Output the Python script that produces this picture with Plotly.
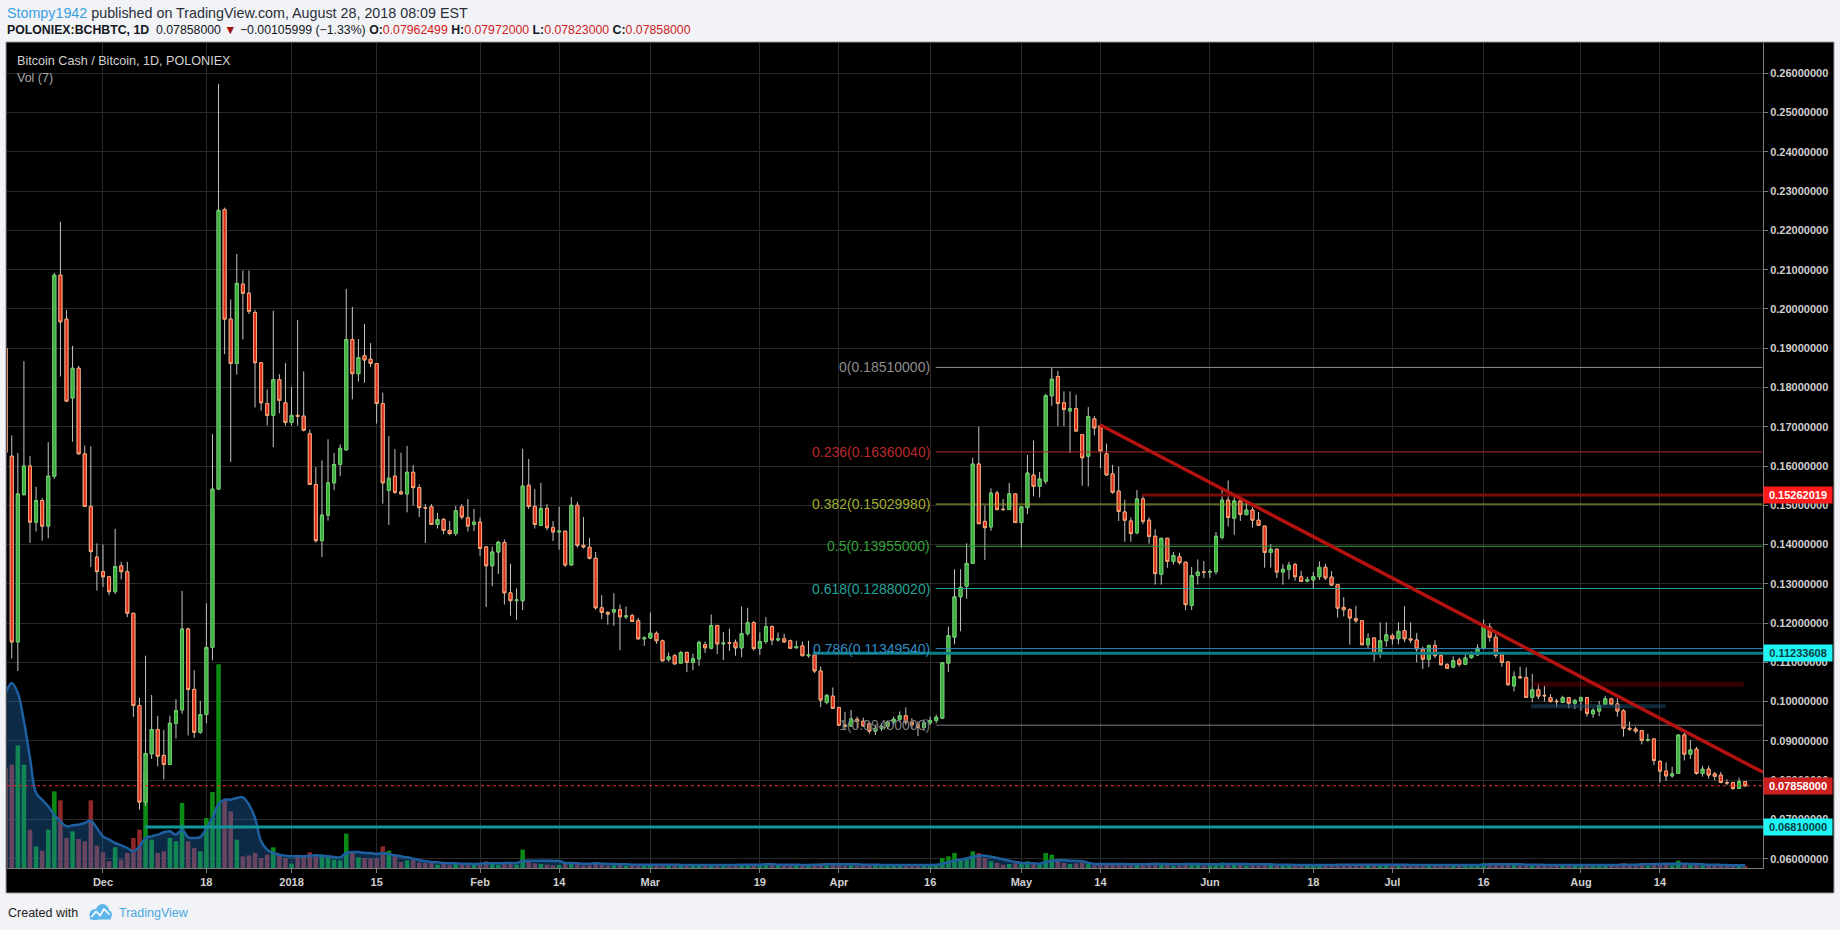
import plotly.graph_objects as go
import pandas as pd

# ---------------- data ----------------
start_date = "2017-11-15"
end_date = "2018-08-28"

open_ = [
    0.1900, 0.1625, 0.1152, 0.1527, 0.1600, 0.1457, 0.1512, 0.1447, 0.1574, 0.2086, 0.1974, 0.1773, 0.1849, 0.1631, 0.1497, 0.1368,
    0.1331, 0.1318, 0.1280, 0.1346, 0.1331, 0.1225, 0.0990, 0.0744, 0.0867, 0.0929, 0.0863, 0.0840, 0.0945, 0.0979, 0.1185, 0.1031, 0.0922, 0.0967, 0.1138, 0.1541, 0.2253, 0.1974, 0.1861, 0.2063, 0.2040, 0.1991, 0.1863, 0.1759, 0.1729, 0.1820, 0.1761,
    0.1711, 0.1729, 0.1727, 0.1682, 0.1553, 0.1410, 0.1475, 0.1557, 0.1604, 0.1641, 0.1922, 0.1835, 0.1881, 0.1872, 0.1861, 0.1759, 0.1538, 0.1574, 0.1534, 0.1529, 0.1584, 0.1545, 0.1494, 0.1496, 0.1451, 0.1464, 0.1436, 0.1428, 0.1496, 0.1468, 0.1451,
    0.1457, 0.1394, 0.1346, 0.1381, 0.1405, 0.1277, 0.1257, 0.1257, 0.1551, 0.1497, 0.1449, 0.1492, 0.1443, 0.1432, 0.1434, 0.1348, 0.1500, 0.1398, 0.1393, 0.1365, 0.1239, 0.1227, 0.1228, 0.1234, 0.1216, 0.1219, 0.1206, 0.1160,
    0.1162, 0.1174, 0.1155, 0.1107, 0.1117, 0.1098, 0.1125, 0.1100, 0.1109, 0.1145, 0.1136, 0.1194, 0.1147, 0.1150, 0.1151, 0.1137, 0.1173, 0.1201, 0.1136, 0.1153, 0.1191, 0.1157, 0.1160, 0.1155, 0.1137, 0.1142, 0.1117, 0.1119, 0.1078, 0.0998, 0.1014,
    0.0985, 0.0940, 0.0938, 0.0955, 0.0950, 0.0944, 0.0925, 0.0932, 0.0937, 0.0948, 0.0955, 0.0964, 0.0948, 0.0941, 0.0934, 0.0946, 0.0952, 0.0958, 0.1098, 0.1164, 0.1267, 0.1294, 0.1352, 0.1605, 0.1459, 0.1445, 0.1531, 0.1490, 0.1489, 0.1529,
    0.1456, 0.1494, 0.1577, 0.1548, 0.1561, 0.1779, 0.1828, 0.1761, 0.1740, 0.1746, 0.1680, 0.1625, 0.1720, 0.1703, 0.1631, 0.1580, 0.1536, 0.1483, 0.1460, 0.1430, 0.1516, 0.1462, 0.1421, 0.1324, 0.1416, 0.1357, 0.1369, 0.1355, 0.1245, 0.1321, 0.1330,
    0.1330, 0.1331, 0.1418, 0.1513, 0.1467, 0.1511, 0.1476, 0.1488, 0.1462, 0.1447, 0.1380, 0.1388, 0.1330, 0.1337, 0.1349, 0.1318, 0.1307, 0.1310, 0.1318, 0.1342, 0.1317, 0.1298, 0.1240, 0.1234, 0.1211, 0.1206, 0.1145, 0.1162, 0.1122, 0.1155,
    0.1168, 0.1160, 0.1181, 0.1160, 0.1157, 0.1134, 0.1108, 0.1143, 0.1117, 0.1094, 0.1088, 0.1106, 0.1095, 0.1112, 0.1119, 0.1136, 0.1190, 0.1164, 0.1119, 0.1101, 0.1040, 0.1063, 0.1061, 0.1011, 0.1030, 0.1016, 0.1010, 0.1001, 0.0998, 0.1010, 0.0996,
    0.1002, 0.1010, 0.0969, 0.0976, 0.0993, 0.1007, 0.0994, 0.0977, 0.0932, 0.0930, 0.0926, 0.0902, 0.0905, 0.0848, 0.0823, 0.0811, 0.0817, 0.0915, 0.0866, 0.0879, 0.0817, 0.0828, 0.0816, 0.0813, 0.0794, 0.0794, 0.0779, 0.07962,
]
high = [
    0.1920, 0.1678, 0.1633, 0.1867, 0.1625, 0.1547, 0.1518, 0.1661, 0.2092, 0.2222, 0.1997, 0.1906, 0.1855, 0.1652, 0.1650, 0.1403,
    0.1400, 0.1320, 0.1440, 0.1356, 0.1356, 0.1225, 0.1010, 0.1117, 0.1017, 0.0963, 0.0928, 0.0964, 0.1006, 0.1282, 0.1188, 0.1080, 0.1002, 0.1250, 0.1681, 0.2573, 0.2258, 0.2024, 0.2140, 0.2098, 0.2098, 0.1998, 0.1863, 0.1795, 0.1995, 0.1834, 0.1862,
    0.1801, 0.1972, 0.1841, 0.1693, 0.1597, 0.1614, 0.1668, 0.1633, 0.1655, 0.2051, 0.2005, 0.1923, 0.1962, 0.1913, 0.1861, 0.1787, 0.1676, 0.1643, 0.1634, 0.1651, 0.1602, 0.1553, 0.1503, 0.1503, 0.1481, 0.1468, 0.1460, 0.1498, 0.1503, 0.1516, 0.1491,
    0.1469, 0.1394, 0.1394, 0.1409, 0.1413, 0.1351, 0.1288, 0.1644, 0.1618, 0.1541, 0.1557, 0.1503, 0.1460, 0.1496, 0.1434, 0.1521, 0.1509, 0.1470, 0.1417, 0.1381, 0.1271, 0.1231, 0.1276, 0.1247, 0.1242, 0.1224, 0.1213, 0.1166,
    0.1227, 0.1179, 0.1158, 0.1125, 0.1122, 0.1129, 0.1128, 0.1122, 0.1155, 0.1153, 0.1222, 0.1194, 0.1177, 0.1186, 0.1158, 0.1242, 0.1239, 0.1205, 0.1176, 0.1215, 0.1194, 0.1176, 0.1173, 0.1158, 0.1155, 0.1153, 0.1155, 0.1121, 0.1089, 0.1019, 0.1036,
    0.0987, 0.0974, 0.0979, 0.0962, 0.0959, 0.0950, 0.0940, 0.0945, 0.0952, 0.0962, 0.0975, 0.0985, 0.0958, 0.0950, 0.0955, 0.0962, 0.0967, 0.1101, 0.1191, 0.1337, 0.1337, 0.1403, 0.1621, 0.1700, 0.1499, 0.1543, 0.1537, 0.1516, 0.1557, 0.1530,
    0.1496, 0.1628, 0.1665, 0.1585, 0.1784, 0.1851, 0.1842, 0.1790, 0.1790, 0.1782, 0.1680, 0.1750, 0.1727, 0.1705, 0.1657, 0.1603, 0.1599, 0.1514, 0.1469, 0.1539, 0.1524, 0.1469, 0.1439, 0.1416, 0.1416, 0.1381, 0.1379, 0.1355, 0.1343, 0.1362, 0.1358,
    0.1337, 0.1432, 0.1541, 0.1563, 0.1520, 0.1520, 0.1509, 0.1495, 0.1483, 0.1447, 0.1401, 0.1390, 0.1350, 0.1356, 0.1354, 0.1333, 0.1318, 0.1330, 0.1357, 0.1351, 0.1332, 0.1300, 0.1266, 0.1238, 0.1244, 0.1208, 0.1174, 0.1163, 0.1202, 0.1202,
    0.1174, 0.1202, 0.1243, 0.1202, 0.1175, 0.1140, 0.1145, 0.1156, 0.1123, 0.1098, 0.1115, 0.1112, 0.1123, 0.1128, 0.1146, 0.1209, 0.1200, 0.1179, 0.1121, 0.1102, 0.1077, 0.1089, 0.1087, 0.1071, 0.1045, 0.1041, 0.1019, 0.1007, 0.1015, 0.1012, 0.1007,
    0.1013, 0.1010, 0.0983, 0.1002, 0.1015, 0.1010, 0.1009, 0.0981, 0.0949, 0.0936, 0.0928, 0.0918, 0.0906, 0.0850, 0.0845, 0.0834, 0.0915, 0.0923, 0.0902, 0.0885, 0.0837, 0.0837, 0.0821, 0.0821, 0.0802, 0.0796, 0.0806, 0.07972,
]
low = [
    0.1620, 0.1110, 0.1078, 0.1525, 0.1404, 0.1433, 0.1410, 0.1416, 0.1567, 0.1828, 0.1765, 0.1662, 0.1629, 0.1497, 0.1343, 0.1283,
    0.1292, 0.1271, 0.1274, 0.1311, 0.1215, 0.0961, 0.0725, 0.0735, 0.0854, 0.0835, 0.0802, 0.0840, 0.0906, 0.0969, 0.0914, 0.0908, 0.0918, 0.0945, 0.1105, 0.1541, 0.1885, 0.1610, 0.1833, 0.1922, 0.1987, 0.1749, 0.1741, 0.1703, 0.1648, 0.1734, 0.1703,
    0.1703, 0.1703, 0.1688, 0.1553, 0.1405, 0.1368, 0.1461, 0.1538, 0.1574, 0.1641, 0.1770, 0.1815, 0.1812, 0.1852, 0.1708, 0.1504, 0.1450, 0.1529, 0.1527, 0.1482, 0.1499, 0.1470, 0.1404, 0.1451, 0.1441, 0.1426, 0.1424, 0.1422, 0.1464, 0.1433, 0.1434,
    0.1371, 0.1241, 0.1294, 0.1325, 0.1247, 0.1219, 0.1208, 0.1233, 0.1490, 0.1441, 0.1447, 0.1436, 0.1409, 0.1387, 0.1343, 0.1346, 0.1392, 0.1390, 0.1362, 0.1234, 0.1210, 0.1196, 0.1193, 0.1131, 0.1210, 0.1203, 0.1158, 0.1142,
    0.1160, 0.1147, 0.1102, 0.1102, 0.1095, 0.1096, 0.1075, 0.1080, 0.1091, 0.1124, 0.1133, 0.1121, 0.1106, 0.1129, 0.1117, 0.1113, 0.1168, 0.1130, 0.1119, 0.1147, 0.1144, 0.1153, 0.1150, 0.1134, 0.1136, 0.1115, 0.1112, 0.1073, 0.0986, 0.0993, 0.0981,
    0.0938, 0.0927, 0.0936, 0.0932, 0.0936, 0.0918, 0.0915, 0.0925, 0.0930, 0.0941, 0.0948, 0.0940, 0.0930, 0.0912, 0.0925, 0.0940, 0.0945, 0.0955, 0.1075, 0.1146, 0.1179, 0.1262, 0.1352, 0.1453, 0.1361, 0.1435, 0.1487, 0.1486, 0.1489, 0.1456,
    0.1392, 0.1477, 0.1523, 0.1520, 0.1554, 0.1753, 0.1701, 0.1701, 0.1633, 0.1689, 0.1550, 0.1548, 0.1678, 0.1594, 0.1577, 0.1529, 0.1460, 0.1407, 0.1407, 0.1426, 0.1452, 0.1402, 0.1298, 0.1298, 0.1341, 0.1349, 0.1349, 0.1233, 0.1233, 0.1298, 0.1315,
    0.1315, 0.1324, 0.1413, 0.1446, 0.1425, 0.1460, 0.1476, 0.1443, 0.1447, 0.1341, 0.1341, 0.1315, 0.1298, 0.1311, 0.1308, 0.1305, 0.1304, 0.1289, 0.1310, 0.1310, 0.1295, 0.1214, 0.1217, 0.1145, 0.1200, 0.1143, 0.1136, 0.1102, 0.1111, 0.1140,
    0.1145, 0.1146, 0.1151, 0.1149, 0.1100, 0.1083, 0.1088, 0.1111, 0.1092, 0.1083, 0.1085, 0.1089, 0.1094, 0.1109, 0.1117, 0.1132, 0.1153, 0.1111, 0.1089, 0.1041, 0.1026, 0.1058, 0.1011, 0.0998, 0.1006, 0.1000, 0.0998, 0.0987, 0.0997, 0.0983, 0.0981,
    0.0977, 0.0962, 0.0959, 0.0963, 0.0991, 0.0990, 0.0962, 0.0911, 0.0925, 0.0919, 0.0891, 0.0898, 0.0838, 0.0794, 0.0798, 0.0806, 0.0817, 0.0850, 0.0854, 0.0814, 0.0809, 0.0804, 0.0800, 0.0792, 0.0787, 0.0775, 0.0779, 0.07823,
]
close = [
    0.1635, 0.1152, 0.1529, 0.1600, 0.1457, 0.1512, 0.1447, 0.1574, 0.2086, 0.1967, 0.1765, 0.1849, 0.1631, 0.1497, 0.1382, 0.1331,
    0.1318, 0.1280, 0.1344, 0.1331, 0.1225, 0.0990, 0.0744, 0.0868, 0.0929, 0.0861, 0.0840, 0.0945, 0.0977, 0.1185, 0.1031, 0.0922, 0.0967, 0.1138, 0.1541, 0.2251, 0.1974, 0.1861, 0.2065, 0.2040, 0.1994, 0.1863, 0.1761, 0.1729, 0.1820, 0.1767, 0.1711,
    0.1729, 0.1727, 0.1691, 0.1553, 0.1410, 0.1475, 0.1557, 0.1604, 0.1645, 0.1922, 0.1835, 0.1876, 0.1870, 0.1861, 0.1759, 0.1557, 0.1569, 0.1533, 0.1529, 0.1584, 0.1545, 0.1494, 0.1493, 0.1451, 0.1464, 0.1436, 0.1428, 0.1486, 0.1470, 0.1447, 0.1457,
    0.1390, 0.1346, 0.1381, 0.1406, 0.1277, 0.1257, 0.1259, 0.1549, 0.1497, 0.1451, 0.1492, 0.1443, 0.1432, 0.1434, 0.1348, 0.1500, 0.1398, 0.1394, 0.1365, 0.1239, 0.1227, 0.1223, 0.1234, 0.1216, 0.1218, 0.1204, 0.1160, 0.1162,
    0.1174, 0.1155, 0.1104, 0.1114, 0.1096, 0.1125, 0.1100, 0.1109, 0.1151, 0.1137, 0.1194, 0.1147, 0.1149, 0.1149, 0.1137, 0.1173, 0.1201, 0.1135, 0.1153, 0.1191, 0.1157, 0.1160, 0.1152, 0.1136, 0.1140, 0.1117, 0.1119, 0.1078, 0.1004, 0.1016, 0.0983,
    0.0940, 0.0938, 0.0956, 0.0949, 0.0938, 0.0925, 0.0932, 0.0937, 0.0948, 0.0955, 0.0964, 0.0948, 0.0941, 0.0934, 0.0946, 0.0952, 0.0960, 0.1099, 0.1168, 0.1267, 0.1291, 0.1352, 0.1605, 0.1453, 0.1443, 0.1531, 0.1489, 0.1489, 0.1529, 0.1456,
    0.1496, 0.1582, 0.1548, 0.1567, 0.1779, 0.1821, 0.1759, 0.1744, 0.1746, 0.1689, 0.1621, 0.1726, 0.1697, 0.1638, 0.1577, 0.1533, 0.1484, 0.1462, 0.1428, 0.1516, 0.1459, 0.1421, 0.1326, 0.1416, 0.1357, 0.1372, 0.1354, 0.1247, 0.1321, 0.1330, 0.1329,
    0.1331, 0.1421, 0.1513, 0.1469, 0.1511, 0.1477, 0.1488, 0.1462, 0.1449, 0.1380, 0.1388, 0.1330, 0.1337, 0.1347, 0.1318, 0.1306, 0.1310, 0.1318, 0.1342, 0.1315, 0.1297, 0.1238, 0.1234, 0.1213, 0.1206, 0.1145, 0.1160, 0.1122, 0.1155, 0.1170,
    0.1160, 0.1179, 0.1160, 0.1157, 0.1134, 0.1108, 0.1143, 0.1117, 0.1094, 0.1085, 0.1104, 0.1095, 0.1111, 0.1119, 0.1136, 0.1196, 0.1164, 0.1118, 0.1100, 0.1043, 0.1063, 0.1061, 0.1011, 0.1030, 0.1014, 0.1015, 0.1000, 0.1000, 0.1010, 0.0996, 0.1003,
    0.1010, 0.0970, 0.0978, 0.0990, 0.1007, 0.0993, 0.0976, 0.0932, 0.0930, 0.0925, 0.0901, 0.0903, 0.0850, 0.0823, 0.0811, 0.0816, 0.0915, 0.0866, 0.0877, 0.0817, 0.0828, 0.0813, 0.0810, 0.0794, 0.0793, 0.0779, 0.07964, 0.07858,
]
volume = [
    300, 310, 368, 310, 115, 65, 52, 115, 230, 203, 90, 110, 87, 80, 203, 67,
    47, 20, 62, 25, 45, 90, 115, 290, 85, 45, 50, 90, 80, 195, 80, 60, 50, 150, 228, 611, 205, 170, 85, 35, 38, 45, 30, 40, 62, 40, 30,
    13, 40, 35, 47, 35, 40, 35, 25, 23, 103, 45, 32, 30, 28, 30, 65, 52, 40, 18, 23, 25, 17, 15, 15, 10, 12, 10, 14, 12, 14, 10,
    14, 20, 12, 10, 16, 14, 10, 55, 22, 14, 12, 10, 8, 9, 14, 18, 12, 7, 8, 14, 9, 7, 8, 10, 6, 7, 9, 7,
    8, 6, 9, 6, 7, 8, 9, 7, 8, 6, 12, 9, 7, 6, 7, 12, 10, 9, 8, 13, 9, 6, 6, 7, 5, 8, 6, 9, 14, 8, 9,
    10, 7, 8, 6, 7, 8, 6, 7, 8, 9, 8, 9, 7, 9, 8, 7, 9, 30, 35, 45, 25, 30, 50, 45, 30, 20, 15, 10, 12, 14,
    12, 20, 15, 12, 45, 40, 25, 15, 12, 14, 16, 14, 8, 12, 11, 10, 12, 9, 8, 12, 10, 11, 16, 12, 9, 6, 7, 14, 11, 9, 7,
    8, 13, 16, 12, 10, 9, 7, 8, 7, 12, 9, 10, 8, 7, 8, 6, 5, 6, 9, 8, 7, 13, 9, 12, 8, 10, 7, 11, 10, 8,
    7, 9, 10, 7, 9, 10, 8, 7, 8, 6, 7, 6, 7, 6, 7, 14, 10, 12, 9, 13, 10, 7, 10, 9, 8, 6, 7, 6, 7, 8, 6,
    7, 10, 8, 9, 7, 6, 9, 15, 8, 7, 10, 6, 13, 14, 11, 8, 22, 14, 9, 12, 8, 7, 6, 8, 5, 7, 6, 4,
]
volume_ma7 = [
    525, 555, 525, 440, 330, 225, 205, 185, 160, 140, 125, 128, 130, 135, 142, 120,
    95, 85, 75, 68, 60, 50, 65, 90, 95, 100, 107, 110, 100, 115, 92, 90, 93, 120, 150, 192, 205, 205, 210, 212, 190, 150, 80, 55, 45, 40, 37,
    35, 35, 35, 37, 38, 37, 35, 33, 32, 45, 48, 48, 45, 45, 42, 45, 42, 38, 35, 32, 28, 24, 20, 18, 17, 15, 14, 14, 13, 13, 12,
    13, 14, 14, 14, 15, 15, 15, 21, 22, 22, 22, 22, 21, 21, 15, 15, 14, 13, 13, 14, 13, 12, 12, 11, 11, 10, 10, 10,
    10, 10, 10, 10, 10, 9, 9, 9, 9, 9, 9, 9, 9, 9, 9, 10, 10, 10, 10, 11, 11, 10, 10, 10, 10, 9, 9, 10, 10, 11, 11,
    11, 11, 11, 11, 10, 10, 10, 9, 9, 9, 9, 9, 9, 9, 9, 9, 10, 13, 17, 22, 25, 29, 34, 37, 37, 34, 30, 26, 22, 18,
    15, 14, 14, 13, 18, 22, 23, 23, 22, 21, 20, 16, 12, 12, 12, 12, 12, 12, 11, 11, 11, 12, 12, 12, 12, 11, 11, 12, 12, 12, 11,
    11, 11, 12, 12, 12, 12, 12, 11, 11, 11, 11, 10, 10, 10, 9, 9, 9, 9, 9, 9, 9, 9, 10, 10, 10, 10, 10, 10, 10, 10,
    10, 10, 10, 9, 9, 9, 9, 9, 9, 9, 9, 9, 9, 9, 9, 10, 11, 11, 11, 11, 11, 11, 10, 10, 10, 9, 9, 9, 9, 9, 9,
    9, 9, 9, 9, 9, 9, 9, 10, 10, 10, 11, 11, 12, 12, 13, 13, 13, 13, 12, 12, 11, 10, 10, 9, 9, 8, 8, 8,
]

fib_ratios = ["0", "0.236", "0.382", "0.5", "0.618", "0.786", "1"]
fib_prices = [0.18510000, 0.16360040, 0.15029980, 0.13955000, 0.12880020, 0.11349540, 0.09400000]
fib_colors = ["#8d8d8d", "#b8282a", "#a2ad2f", "#35a23a", "#27a398", "#2f8cc2", "#7c7c7c"]

ray_prices = [0.15262019, 0.11233608, 0.06810000]
last_price = 0.07858000

time_tick_dates = ["2017-12-01", "2017-12-18", "2018-01-01", "2018-01-15", "2018-02-01", "2018-02-14",
                   "2018-03-01", "2018-03-19", "2018-04-01", "2018-04-16", "2018-05-01", "2018-05-14",
                   "2018-06-01", "2018-06-18", "2018-07-01", "2018-07-16", "2018-08-01", "2018-08-14"]
time_tick_text = ["Dec", "18", "2018", "15", "Feb", "14", "Mar", "19", "Apr", "16", "May", "14",
                  "Jun", "18", "Jul", "16", "Aug", "14"]
price_ticks = [0.06, 0.07, 0.08, 0.09, 0.10, 0.11, 0.12, 0.13, 0.14, 0.15, 0.16,
               0.17, 0.18, 0.19, 0.20, 0.21, 0.22, 0.23, 0.24, 0.25, 0.26]

# ---------------- figure ----------------
dates = pd.date_range(start_date, end_date, freq="D")
n = len(dates)
assert all(len(a) == n for a in (open_, high, low, close, volume, volume_ma7)), [len(a) for a in (open_, high, low, close, volume, volume_ma7)]

FONT = "Liberation Sans, Arial, sans-serif"
W, H = 1840, 930
L, R, T, B = 7, 1763, 43, 868


def px(x):
    return (x - L) / (R - L)


def py(y):
    return (B - y) / (B - T)


up = [c >= o for o, c in zip(open_, close)]
vol_colors = ["#0c8a16" if u else "#8c2828" for u in up]
body_hi = [max(o, c) for o, c in zip(open_, close)]
body_lo = [min(o, c) for o, c in zip(open_, close)]

fig = go.Figure()
fig.add_trace(go.Bar(x=dates, y=volume, marker=dict(color=vol_colors, line=dict(width=0)),
                     yaxis="y", hoverinfo="skip"))
fig.add_trace(go.Scatter(x=dates, y=volume_ma7, mode="lines", yaxis="y", hoverinfo="skip",
                         line=dict(color="#1d5f9f", width=2.5, shape="spline"),
                         fill="tozeroy", fillcolor="rgba(35,120,200,0.35)"))
# wicks (grey)
fig.add_trace(go.Candlestick(x=dates, open=open_, high=high, low=low, close=close, yaxis="y2",
                             whiskerwidth=0, hoverinfo="skip",
                             increasing=dict(line=dict(color="#c4c4c4", width=1), fillcolor="rgba(0,0,0,0)"),
                             decreasing=dict(line=dict(color="#c4c4c4", width=1), fillcolor="rgba(0,0,0,0)")))
# bodies
fig.add_trace(go.Candlestick(x=dates, open=open_, high=body_hi, low=body_lo, close=close, yaxis="y2",
                             whiskerwidth=0, hoverinfo="skip",
                             increasing=dict(line=dict(color="#66cc66", width=1), fillcolor="#39ae3b"),
                             decreasing=dict(line=dict(color="#f6a36c", width=1), fillcolor="#dd2a1f")))

axis_font = dict(family=FONT, size=11, color="#cfcfcf", weight="bold")
fig.update_layout(
    width=W, height=H, autosize=False,
    margin=dict(l=L, r=W - R, t=T, b=H - B, pad=0),
    paper_bgcolor="#f1f3f6", plot_bgcolor="#000000",
    showlegend=False, bargap=0.25,
    font=dict(family=FONT, size=11, color="#cfcfcf"),
    xaxis=dict(type="date", range=["2017-11-15 05:15", "2018-08-30 22:30"],
               tickmode="array", tickvals=time_tick_dates, ticktext=time_tick_text,
               showgrid=True, gridcolor="#2a2a2a", gridwidth=1, zeroline=False,
               showline=True, linecolor="#7d7d7d", linewidth=1,
               ticks="outside", ticklen=4, tickcolor="#7d7d7d", tickfont=axis_font,
               rangeslider=dict(visible=False), fixedrange=True),
    yaxis=dict(range=[0, 2475], visible=False, showgrid=False, zeroline=False, fixedrange=True),
    yaxis2=dict(overlaying="y", side="right", range=[0.05763, 0.26772],
                tickmode="array", tickvals=price_ticks, tickformat=".8f",
                showgrid=True, gridcolor="#2a2a2a", gridwidth=1, zeroline=False,
                showline=True, linecolor="#7d7d7d", linewidth=1,
                ticks="outside", ticklen=4, tickcolor="#7d7d7d", tickfont=axis_font,
                fixedrange=True),
)

shapes = []
# outer black frame (chart + axes panels)
shapes.append(dict(type="rect", xref="paper", yref="paper", layer="below",
                   x0=px(6), x1=px(1834), y0=py(893), y1=py(42),
                   fillcolor="#000000", line=dict(color="#9a9a9a", width=1)))

fib_x0 = "2018-04-16 22:00"
x_end = "2018-08-30 22:30"
for price, col in zip(fib_prices, fib_colors):
    shapes.append(dict(type="line", xref="x", yref="y2", layer="above",
                       x0=fib_x0, x1="2018-08-30 20:00", y0=price, y1=price,
                       line=dict(color=col, width=1)))

# horizontal rays
ray_starts = ["2018-05-20 19:00", "2018-03-27 17:00", "2017-12-07 22:00"]
ray_colors = ["#7c0a0a", "#0b8087", "#13979b"]
for price, x0, col in zip(ray_prices, ray_starts, ray_colors):
    shapes.append(dict(type="line", xref="x", yref="y2", layer="above",
                       x0=x0, x1=x_end, y0=price, y1=price, line=dict(color=col, width=3)))

# faint drawn bands
shapes.append(dict(type="line", xref="x", yref="y2", layer="above",
                   x0="2018-07-24 00:00", x1="2018-08-27 19:00", y0=0.1044, y1=0.1044,
                   line=dict(color="rgba(110,0,0,0.45)", width=5)))
shapes.append(dict(type="line", xref="x", yref="y2", layer="above",
                   x0="2018-07-23 19:00", x1="2018-08-14 22:00", y0=0.0988, y1=0.0988,
                   line=dict(color="rgba(25,75,105,0.55)", width=4)))

# trend line
shapes.append(dict(type="line", xref="x", yref="y2", layer="above",
                   x0="2018-05-13 22:00", y0=0.1705, x1=x_end, y1=0.0820,
                   line=dict(color="#b3120f", width=3.5)))

# last price dotted line
shapes.append(dict(type="line", xref="paper", yref="y2", layer="above",
                   x0=0, x1=1, y0=last_price, y1=last_price,
                   line=dict(color="#ee2a2a", width=1, dash="dot")))

# TradingView logo (footer)
logo_col = "#5db6ea"
for cx, cy, r in [(95, 914.5, 5.5), (102.5, 910.5, 6.5), (107.5, 914.5, 4.5)]:
    shapes.append(dict(type="circle", xref="paper", yref="paper", layer="above",
                       x0=px(cx - r), x1=px(cx + r), y0=py(cy + r), y1=py(cy - r),
                       fillcolor=logo_col, line=dict(width=0)))
shapes.append(dict(type="rect", xref="paper", yref="paper", layer="above",
                   x0=px(90), x1=px(111), y0=py(919.5), y1=py(913),
                   fillcolor=logo_col, line=dict(width=0)))
zig = [(91.5, 917), (96, 911.5), (100, 915.5), (104, 909), (109.5, 914.5)]
path = "M " + " L ".join(f"{px(a)},{py(b)}" for a, b in zig)
shapes.append(dict(type="path", xref="paper", yref="paper", layer="above", path=path,
                   line=dict(color="#ffffff", width=1.6)))

fig.update_layout(shapes=shapes)

ann = []
# header
ann.append(dict(xref="paper", yref="paper", x=px(5), y=py(12.7), xanchor="left", yanchor="middle",
                showarrow=False, font=dict(family=FONT, size=14.3, color="#2a2e39"),
                text="<span style='color:#3a9fdf'>Stompy1942</span> published on TradingView.com, August 28, 2018 08:09 EST"))
red = "#d01c1c"
hdr2 = ("<b>POLONIEX:BCHBTC, 1D</b>  0.07858000 <span style='color:#a01010'>▼</span> −0.00105999 (−1.33%) "
        f"<b>O:</b><span style='color:{red}'>0.07962499</span> "
        f"<b>H:</b><span style='color:{red}'>0.07972000</span> "
        f"<b>L:</b><span style='color:{red}'>0.07823000</span> "
        f"<b>C:</b><span style='color:{red}'>0.07858000</span>")
ann.append(dict(xref="paper", yref="paper", x=px(5), y=py(30), xanchor="left", yanchor="middle",
                showarrow=False, font=dict(family=FONT, size=12.3, color="#131722"), text=hdr2))
# in-chart titles
ann.append(dict(xref="paper", yref="paper", x=px(15), y=py(60.5), xanchor="left", yanchor="middle",
                showarrow=False, font=dict(family=FONT, size=12.6, color="#d2d2d2"),
                text="Bitcoin Cash / Bitcoin, 1D, POLONIEX"))
ann.append(dict(xref="paper", yref="paper", x=px(15), y=py(77.5), xanchor="left", yanchor="middle",
                showarrow=False, font=dict(family=FONT, size=12.5, color="#a9a9a9"), text="Vol (7)"))
# fib labels
for ratio, price, col in zip(fib_ratios, fib_prices, fib_colors):
    ann.append(dict(xref="x", yref="y2", x=fib_x0, y=price, xanchor="right", yanchor="middle",
                    xshift=-4, showarrow=False, font=dict(family=FONT, size=14, color=col),
                    text=f"{ratio}({price:.8f})"))
# price-axis boxes
boxes = [(ray_prices[0], "#ff1b1b", "#ffffff"), (ray_prices[1], "#1ff5f5", "#0a3d40"),
         (last_price, "#cc2020", "#ffffff"), (ray_prices[2], "#1ff5f5", "#0a3d40")]
for price, bg, fg in boxes:
    ann.append(dict(xref="paper", yref="y2", x=1, y=price, xanchor="left", yanchor="middle",
                    showarrow=False, bgcolor=bg, borderpad=1, width=66, height=14, align="center",
                    font=dict(family=FONT, size=11, color=fg, weight="bold"),
                    text=f"{price:.8f}"))
# footer
ann.append(dict(xref="paper", yref="paper", x=px(6), y=py(912.5), xanchor="left", yanchor="middle",
                showarrow=False, font=dict(family=FONT, size=12.5, color="#222222"), text="Created with"))
ann.append(dict(xref="paper", yref="paper", x=px(117), y=py(912.5), xanchor="left", yanchor="middle",
                showarrow=False, font=dict(family=FONT, size=12.5, color="#4aa8e0"), text="TradingView"))
fig.update_layout(annotations=ann)

fig.write_html("out.html")
